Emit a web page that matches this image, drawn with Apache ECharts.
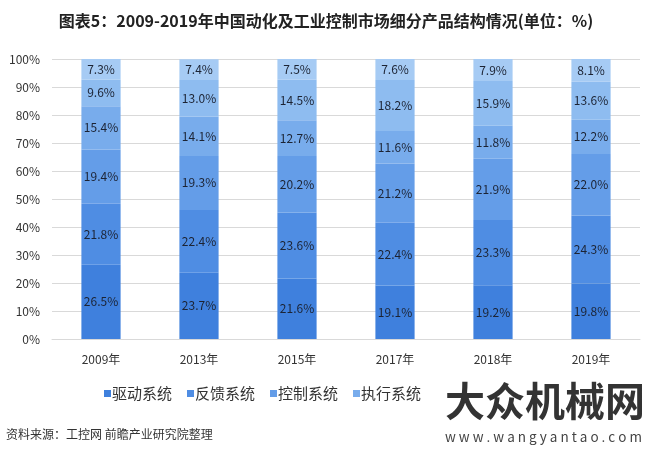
<!DOCTYPE html>
<html><head><meta charset="utf-8">
<script src="https://cdn.jsdelivr.net/npm/echarts@6/dist/echarts.min.js"></script>
<style>html,body{margin:0;padding:0;background:#fff}#c{width:652px;height:455px}</style>
</head><body><div id="c"></div>
<script>
const categories = ['2009年','2013年','2015年','2017年','2018年','2019年'];
const drive    = [26.5, 23.7, 21.6, 19.1, 19.2, 19.8];
const feedback = [21.8, 22.4, 23.6, 22.4, 23.3, 24.3];
const control  = [19.4, 19.3, 20.2, 21.2, 21.9, 22.0];
const execute  = [15.4, 14.1, 12.7, 11.6, 11.8, 12.2];
const other1   = [9.6, 13.0, 14.5, 18.2, 15.9, 13.6];
const other2   = [7.3, 7.4, 7.5, 7.6, 7.9, 8.1];
const seriesNames = ['驱动系统','反馈系统','控制系统','执行系统','其他1','其他2'];
const legendNames = ['驱动系统','反馈系统','控制系统','执行系统'];
const colors = ['#3f80dd','#4f8de3','#649de8','#78acec','#8ebcf0','#a6cbf4'];
const yTicks = [0,10,20,30,40,50,60,70,80,90,100];

const font = '"Microsoft YaHei","Noto Sans CJK SC",sans-serif';
const allData = [drive, feedback, control, execute, other1, other2];
const chart = echarts.init(document.getElementById('c'));
chart.setOption({
  animation:false,
  color: colors,
  title:{text:'图表5：2009-2019年中国动化及工业控制市场细分产品结构情况(单位：%)',left:'center',top:8,
    textStyle:{fontFamily:font,fontSize:16,fontWeight:'bold',color:'#222'}},
  legend:{data:legendNames,top:381,left:99,itemWidth:7,itemHeight:7,itemGap:15,icon:'rect',
    textStyle:{fontFamily:font,fontSize:15,color:'#333',padding:[0,0,0,-4]}},
  grid:{left:52,right:12,top:59,bottom:116},
  xAxis:{type:'category',data:categories,axisLine:{show:true,lineStyle:{color:'#d9d9d9'}},axisTick:{show:false},
    axisLabel:{fontFamily:font,fontSize:12,color:'#333',margin:14}},
  yAxis:{type:'value',min:0,max:100,interval:10,
    axisLabel:{formatter:v=>v+'%',fontFamily:font,fontSize:12,color:'#333',margin:12},
    splitLine:{lineStyle:{color:'#d9d9d9'}},axisLine:{show:false},axisTick:{show:false}},
  series: allData.map((d,i)=>({
    name:seriesNames[i],type:'bar',stack:'s',barWidth:'40%',data:d,
    itemStyle:{color:colors[i]},
    label:{show:true,position:'inside',formatter:p=>p.value.toFixed(1)+'%',fontFamily:font,fontSize:12,color:'#1c2333'}
  })),
  graphic:[
    {type:'text',left:6,top:428,style:{text:'资料来源：工控网 前瞻产业研究院整理',fontFamily:font,fontSize:12,fill:'#333'}},
    {type:'text',x:445,y:381,style:{text:'大众机械网',fontFamily:font,fontSize:40,fontWeight:'bold',fill:'#333'}},
    {type:'text',x:445,y:430,style:{text:'w w w . w a n g y a n t a o . c o m',fontFamily:font,fontSize:13.5,fill:'#444'}}
  ]
});
</script></body></html>
